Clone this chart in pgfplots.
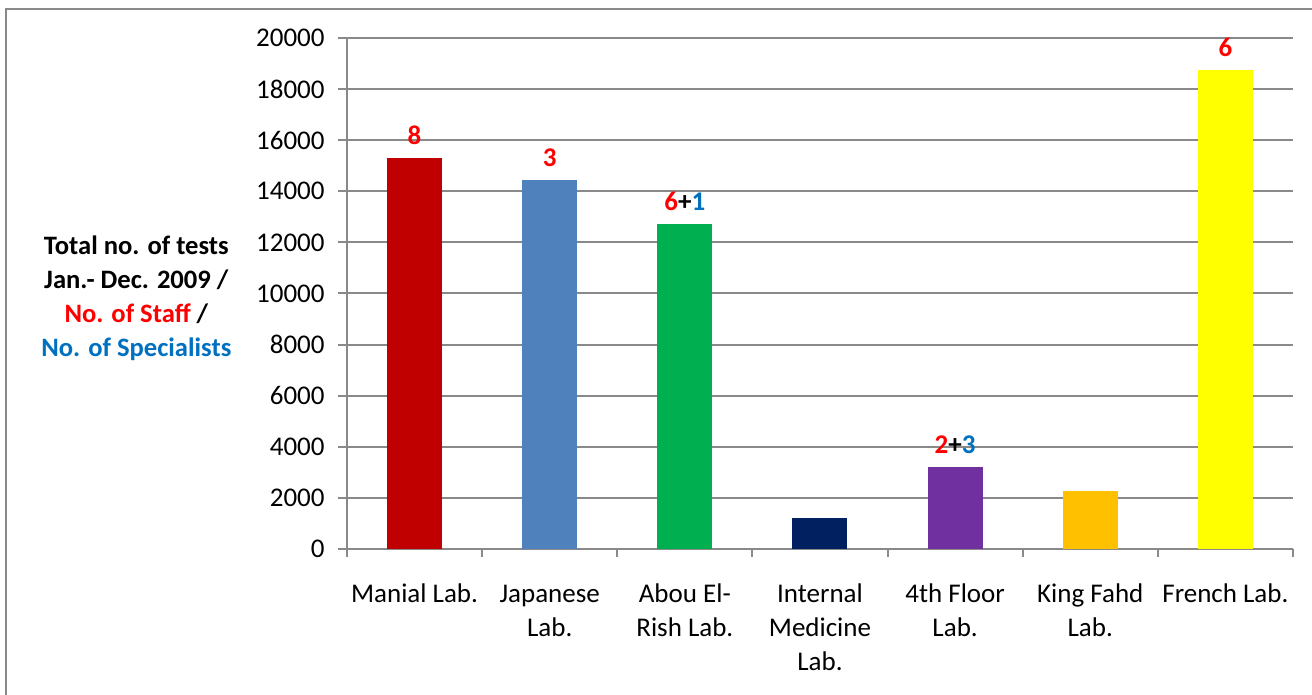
\documentclass[border=0pt]{standalone}
\usepackage{pgfplots}
\pgfplotsset{compat=1.18}
\usepackage{fontspec}
\setmainfont{Carlito}
\definecolor{axgray}{HTML}{898989}
\definecolor{lblred}{HTML}{FF0000}
\definecolor{lblblue}{HTML}{0070C0}
\begin{document}
\fontsize{13.5pt}{17pt}\selectfont
\begin{tikzpicture}
  \useasboundingbox (0,0) rectangle (656pt,347.5pt);
  % frame of the chart area (only left and top edges show)
  \draw[axgray, line width=1pt] (3pt,0) -- (3pt,343pt) -- (656pt,343pt);
  \begin{axis}[
      at={(173.5pt,73pt)}, anchor=south west,
      scale only axis,
      width=473pt, height=255.5pt,
      xmin=-0.5, xmax=6.5,
      ymin=0, ymax=20000,
      ytick={0,2000,...,20000},
      xtick={0,...,6},
      xticklabels={\strut Manial Lab., {\strut Japanese\\Lab.}, {\strut Abou El-\\Rish Lab.}, {\strut Internal\\Medicine\\Lab.}, {\strut 4th Floor\\Lab.}, {\strut King Fahd\\Lab.}, \strut French Lab.},
      minor xtick={-0.5,0.5,...,6.5},
      major x tick style={draw=none},
      minor tick length=4pt,
      major tick length=4.5pt,
      tick align=outside,
      axis x line*=bottom,
      axis y line*=left,
      axis line style={axgray, line width=1pt},
      tick style={axgray, line width=1pt},
      ymajorgrids=true,
      grid style={axgray, line width=1pt},
      scaled y ticks=false,
      /pgf/number format/assume math mode=true,
      yticklabel={\pgfmathprintnumber[fixed,1000 sep={}]{\tick}},
      tick label style={font=\fontsize{13.5pt}{17pt}\selectfont, black},
      xticklabel style={align=center, anchor=north, yshift=-5.5pt},
      yticklabel style={xshift=-2pt},
      ybar, bar width=27.5pt, bar shift=0pt,
      nodes near coords,
      point meta=explicit symbolic,
      every node near coord/.append style={font=\fontsize{13.5pt}{17pt}\selectfont\bfseries, yshift=2pt},
      ylabel={Total no. of tests\\Jan.- Dec. 2009 /\\\textcolor{lblred}{No. of Staff} /\\\textcolor{lblblue}{No. of Specialists}},
      ylabel style={rotate=-90, align=center, font=\fontsize{13.3pt}{17pt}\selectfont\bfseries, at={(axis description cs:-0.2227,0.49)}, anchor=center},
    ]
    \addplot[fill={rgb,255:red,192;green,0;blue,0}, draw=none] coordinates {(0,15300) [\textcolor{lblred}{8}]};
    \addplot[fill={rgb,255:red,79;green,129;blue,189}, draw=none] coordinates {(1,14440) [\textcolor{lblred}{3}]};
    \addplot[fill={rgb,255:red,0;green,176;blue,80}, draw=none] coordinates {(2,12720) [\textcolor{lblred}{6}+\textcolor{lblblue}{1}]};
    \addplot[fill={rgb,255:red,0;green,32;blue,96}, draw=none] coordinates {(3,1210) []};
    \addplot[fill={rgb,255:red,112;green,48;blue,160}, draw=none] coordinates {(4,3210) [\textcolor{lblred}{2}+\textcolor{lblblue}{3}]};
    \addplot[fill={rgb,255:red,255;green,192;blue,0}, draw=none] coordinates {(5,2270) []};
    \addplot[fill={rgb,255:red,255;green,255;blue,0}, draw=none] coordinates {(6,18750) [\textcolor{lblred}{6}]};
  \end{axis}
\end{tikzpicture}
\end{document}
